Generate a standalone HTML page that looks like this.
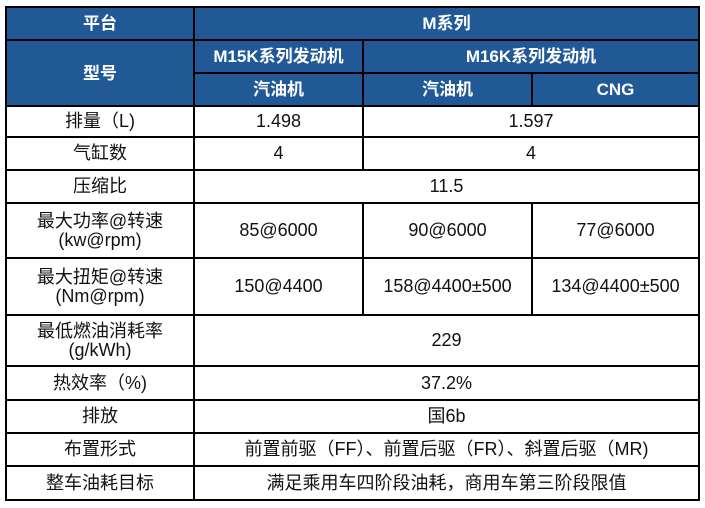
<!DOCTYPE html>
<html><head><meta charset="utf-8"><style>
body{margin:0;width:705px;height:508px;background:#fff;position:relative;overflow:hidden;font-family:"Liberation Sans","Noto Sans CJK SC",sans-serif;}
.c{position:absolute;box-sizing:border-box;border:2px solid #000;display:flex;align-items:center;justify-content:center;text-align:center;font-size:18px;color:#111;line-height:19px;}
.h{background:#215896;color:#fff;font-weight:bold;font-size:17px;}
</style></head><body>
<div id="t"></div>
<script>
var X=[6,194,363,532,699];
var Y=[7,40,73,106,137,170,203,258,315,366,400,433,466,500];
var cells=[
[0,1,0,1,'平台',1],[1,4,0,1,'M系列',1],
[0,1,1,3,'型号',1],[1,2,1,2,'M15K系列发动机',1],[2,4,1,2,'M16K系列发动机',1],
[1,2,2,3,'汽油机',1],[2,3,2,3,'汽油机',1],[3,4,2,3,'CNG',1],
[0,1,3,4,'排量（L)'],[1,2,3,4,'1.498'],[2,4,3,4,'1.597'],
[0,1,4,5,'气缸数'],[1,2,4,5,'4'],[2,4,4,5,'4'],
[0,1,5,6,'压缩比'],[1,4,5,6,'11.5'],
[0,1,6,7,'最大功率@转速<br>(kw@rpm)'],[1,2,6,7,'85@6000'],[2,3,6,7,'90@6000'],[3,4,6,7,'77@6000'],
[0,1,7,8,'最大扭矩@转速<br>(Nm@rpm)'],[1,2,7,8,'150@4400'],[2,3,7,8,'158@4400±500'],[3,4,7,8,'134@4400±500'],
[0,1,8,9,'最低燃油消耗率<br>(g/kWh)'],[1,4,8,9,'229'],
[0,1,9,10,'热效率（%)'],[1,4,9,10,'37.2%'],
[0,1,10,11,'排放'],[1,4,10,11,'国6b'],
[0,1,11,12,'布置形式'],[1,4,11,12,'前置前驱（FF）、前置后驱（FR）、斜置后驱（MR)'],
[0,1,12,13,'整车油耗目标'],[1,4,12,13,'满足乘用车四阶段油耗，商用车第三阶段限值']
];
var h='';
cells.forEach(function(c){
 var l=X[c[0]]-1,r=X[c[1]]+1,t=Y[c[2]]-1,b=Y[c[3]]+1;
 h+='<div class="c'+(c[5]?' h':'')+'" style="left:'+l+'px;top:'+t+'px;width:'+(r-l)+'px;height:'+(b-t)+'px">'+c[4]+'</div>';
});
document.getElementById('t').innerHTML=h;
</script>
</body></html>
